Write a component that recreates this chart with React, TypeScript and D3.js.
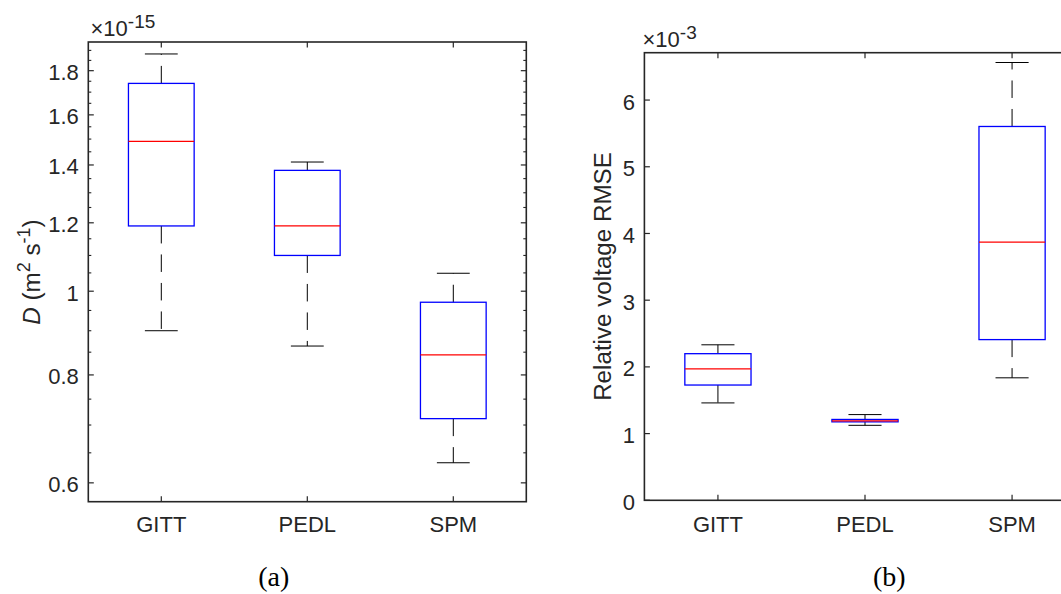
import React from 'react';
import * as d3 from 'd3';

const categories = ['GITT', 'PEDL', 'SPM'];
// [lower whisker, q1, median, q3, upper whisker]  (x 1e-15 m^2 s^-1)
const diffusivityStats = [
  [0.900, 1.190, 1.491, 1.740, 1.882],
  [0.864, 1.100, 1.190, 1.380, 1.411],
  [0.633, 0.712, 0.844, 0.971, 1.049],
];
// [lower whisker, q1, median, q3, upper whisker]  (x 1e-3)
const rmseStats = [
  [1.460, 1.728, 1.971, 2.198, 2.331],
  [1.124, 1.176, 1.192, 1.212, 1.285],
  [1.836, 2.409, 3.870, 5.604, 6.563],
];
const diffMajorTicks = [0.6, 0.8, 1, 1.2, 1.4, 1.6, 1.8];
const diffMinorTicks = [0.65, 0.7, 0.75, 0.85, 0.9, 0.95, 1.05, 1.1, 1.15, 1.25, 1.3, 1.35, 1.45, 1.5, 1.55, 1.65, 1.7, 1.75, 1.85, 1.9];
const rmseTicks = [0, 1, 2, 3, 4, 5, 6];
const diffDomain = [0.5706, 1.943];
const rmseDomain = [0, 6.71];

const AX = '#262626';
const FONT = '"Liberation Sans", Arial, Helvetica, sans-serif';

type PanelProps = {
  x0: number; x1: number; yTop: number; yBot: number;
  y: (v: number) => number;
  stats: number[][];
  majorTicks: number[];
  minorTicks: number[];
  exponent: string;
  expX: number; expY: number;
};

function Panel(p: PanelProps) {
  const x = d3.scaleLinear().domain([0.5, categories.length + 0.5]).range([p.x0, p.x1]);
  const step = x(2) - x(1);
  const boxW = step * 0.45;
  const capW = boxW / 2;
  const major = 5.5, minor = 3;
  return (
    <g>
      {p.stats.map((s, i) => {
        const cx = x(i + 1);
        const [lo, q1, med, q3, hi] = s;
        return (
          <g key={i}>
            <line x1={cx} x2={cx} y1={p.y(q1)} y2={p.y(lo)} stroke="#000" strokeWidth={1} strokeDasharray="17.5 11" />
            <line x1={cx} x2={cx} y1={p.y(q3)} y2={p.y(hi)} stroke="#000" strokeWidth={1} strokeDasharray="17.5 11" />
            <line x1={cx - capW / 2} x2={cx + capW / 2} y1={p.y(lo)} y2={p.y(lo)} stroke="#000" strokeWidth={1} />
            <line x1={cx - capW / 2} x2={cx + capW / 2} y1={p.y(hi)} y2={p.y(hi)} stroke="#000" strokeWidth={1} />
            <rect x={cx - boxW / 2} y={p.y(q3)} width={boxW} height={p.y(q1) - p.y(q3)} fill="none" stroke="#0000ff" strokeWidth={1.3} />
            <line x1={cx - boxW / 2} x2={cx + boxW / 2} y1={p.y(med)} y2={p.y(med)} stroke="#ff0000" strokeWidth={1.3} />
          </g>
        );
      })}
      {p.majorTicks.map((t) => (
        <g key={'M' + t}>
          <line x1={p.x0} x2={p.x0 + major} y1={p.y(t)} y2={p.y(t)} stroke={AX} strokeWidth={1.2} />
          <line x1={p.x1} x2={p.x1 - major} y1={p.y(t)} y2={p.y(t)} stroke={AX} strokeWidth={1.2} />
          <text x={p.x0 - 9.5} y={p.y(t)} dy="0.43em" textAnchor="end" fontSize={22} fill={AX} fontFamily={FONT}>{String(t)}</text>
        </g>
      ))}
      {p.minorTicks.map((t) => (
        <g key={'m' + t}>
          <line x1={p.x0} x2={p.x0 + minor} y1={p.y(t)} y2={p.y(t)} stroke={AX} strokeWidth={1.1} />
          <line x1={p.x1} x2={p.x1 - minor} y1={p.y(t)} y2={p.y(t)} stroke={AX} strokeWidth={1.1} />
        </g>
      ))}
      {categories.map((c, i) => (
        <g key={c}>
          <line x1={x(i + 1)} x2={x(i + 1)} y1={p.yBot} y2={p.yBot - major} stroke={AX} strokeWidth={1.2} />
          <line x1={x(i + 1)} x2={x(i + 1)} y1={p.yTop} y2={p.yTop + major} stroke={AX} strokeWidth={1.2} />
          <text x={x(i + 1)} y={532.3} textAnchor="middle" fontSize={22} fill={AX} fontFamily={FONT}>{c}</text>
        </g>
      ))}
      <rect x={p.x0} y={p.yTop} width={p.x1 - p.x0} height={p.yBot - p.yTop} fill="none" stroke={AX} strokeWidth={1.6} />
      <text x={p.expX} y={p.expY} fontSize={22} fill={AX} fontFamily={FONT}>
        ×10<tspan fontSize={19} dy={-8}>{p.exponent}</tspan>
      </text>
    </g>
  );
}

export default function App() {
  const yL = d3.scaleLog().domain(diffDomain).range([501.7, 42]);
  const yR = d3.scaleLinear().domain(rmseDomain).range([500.3, 52.7]);
  return (
    <svg width={1061} height={594} style={{ position: 'absolute', left: 0, top: 0, background: '#fff' }}>
      <rect x={0} y={0} width={1061} height={594} fill="#fff" />
      <Panel x0={88.3} x1={526.3} yTop={42} yBot={501.7} y={(v) => yL(v)} stats={diffusivityStats}
        majorTicks={diffMajorTicks} minorTicks={diffMinorTicks} exponent="-15" expX={90.5} expY={36} />
      <Panel x0={644.4} x1={1085.6} yTop={52.7} yBot={500.3} y={(v) => yR(v)} stats={rmseStats}
        majorTicks={rmseTicks} minorTicks={[]} exponent="-3" expX={642.5} expY={47} />
      <text transform="translate(40,272) rotate(-90)" textAnchor="middle" fontSize={24.2} fill={AX} fontFamily={FONT}>
        <tspan fontStyle="italic">D</tspan> (m<tspan fontSize={18} dy={-10}>2</tspan><tspan dy={10}> s</tspan><tspan fontSize={18} dy={-10}>-1</tspan><tspan dy={10}>)</tspan>
      </text>
      <text transform="translate(610.7,276.5) rotate(-90)" textAnchor="middle" fontSize={24.2} fill={AX} fontFamily={FONT}>
        Relative voltage RMSE
      </text>
      <text x={273.7} y={585.5} textAnchor="middle" fontSize={28} fill="#000" fontFamily='"Liberation Serif", "Times New Roman", serif'>(a)</text>
      <text x={889.3} y={585.5} textAnchor="middle" fontSize={28} fill="#000" fontFamily='"Liberation Serif", "Times New Roman", serif'>(b)</text>
    </svg>
  );
}
